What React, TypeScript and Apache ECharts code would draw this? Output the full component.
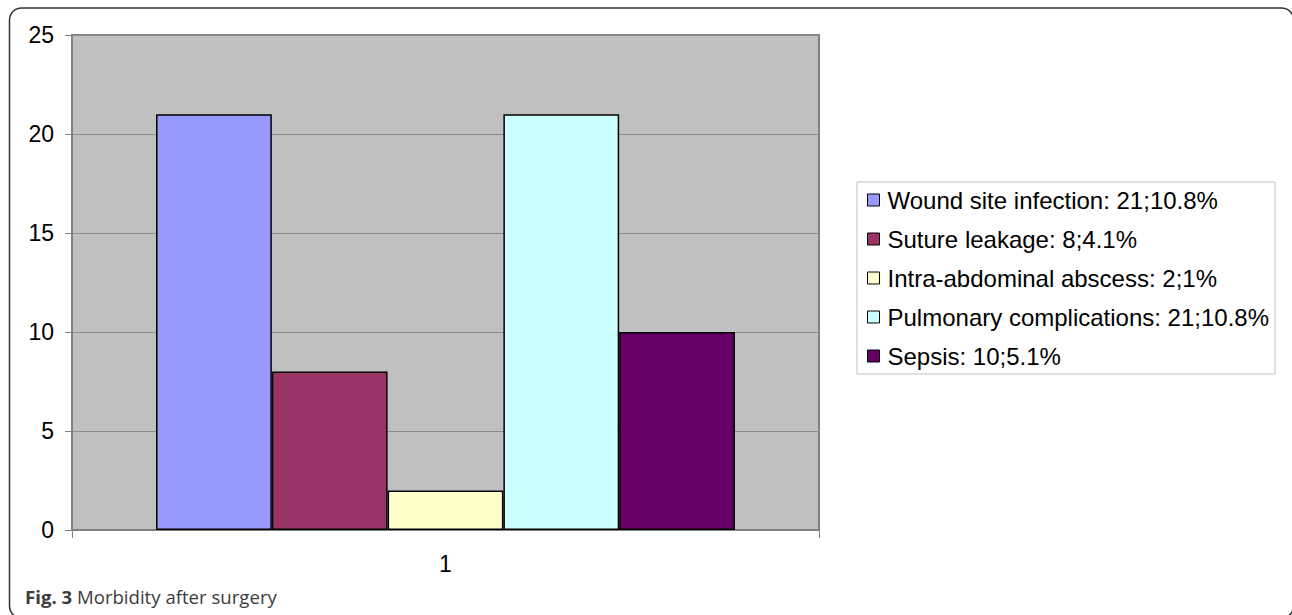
import React, { useEffect, useRef } from "react";
import * as echarts from "echarts";

const categories = ["1"];
const seriesNames = [
  "Wound site infection: 21;10.8%",
  "Suture leakage: 8;4.1%",
  "Intra-abdominal abscess: 2;1%",
  "Pulmonary complications: 21;10.8%",
  "Sepsis: 10;5.1%",
];
const seriesValues = [[21], [8], [2], [21], [10]];
const seriesColors = ["#9999FF", "#993366", "#FFFFCC", "#CCFFFF", "#660066"];
const yTicks = { min: 0, max: 25, interval: 5 };
const captionBold = "Fig. 3";
const captionText = "Morbidity after surgery";

export default function App() {
  const ref = useRef<HTMLDivElement>(null);
  useEffect(() => {
    if (!ref.current) return;
    const chart = echarts.init(ref.current, null, { renderer: "svg" });
    const font = "'Liberation Sans', Arial, sans-serif";
    chart.setOption({
      animation: false,
      backgroundColor: "#ffffff",
      grid: {
        left: 72,
        top: 35,
        right: 1292 - 819,
        bottom: 615 - 530,
        show: true,
        backgroundColor: "#c0c0c0",
        borderColor: "#808080",
        borderWidth: 2,
      },
      legend: {
        orient: "vertical",
        left: 857,
        top: 182,
        padding: [6, 6, 6, 10],
        itemGap: 15,
        itemWidth: 12,
        itemHeight: 12,
        icon: "rect",
        backgroundColor: "#ffffff",
        borderColor: "#c0c0c0",
        borderWidth: 1,
        borderRadius: 0,
        itemStyle: { borderColor: "#000000", borderWidth: 1 },
        textStyle: {
          fontFamily: font,
          fontSize: 24,
          color: "#000000",
          lineHeight: 24,
          padding: [0, 0, 0, 3],
        },
        data: seriesNames,
      },
      xAxis: {
        type: "category",
        data: categories,
        axisLine: { show: true, lineStyle: { color: "#808080", width: 2 } },
        axisTick: { show: true, length: 8, lineStyle: { color: "#808080", width: 1 } },
        axisLabel: { fontFamily: font, fontSize: 23, color: "#000000", margin: 22 },
        splitLine: { show: false },
      },
      yAxis: {
        type: "value",
        min: yTicks.min,
        max: yTicks.max,
        interval: yTicks.interval,
        axisLine: { show: true, lineStyle: { color: "#808080", width: 2 } },
        axisTick: { show: true, length: 7, lineStyle: { color: "#808080", width: 1 } },
        axisLabel: { fontFamily: font, fontSize: 23, color: "#000000", margin: 18 },
        splitLine: { show: true, lineStyle: { color: "#8c8c8c", width: 1 } },
      },
      series: seriesNames.map((name, i) => ({
        name,
        type: "bar",
        data: seriesValues[i],
        barGap: "0%",
        barCategoryGap: "22.5%",
        itemStyle: { color: seriesColors[i], borderColor: "#000000", borderWidth: 1.5 },
      })),
      graphic: [
        {
          type: "rect",
          shape: { x: 9.5, y: 8, width: 1284, height: 610, r: 12 },
          style: { fill: "none", stroke: "#333333", lineWidth: 1.5 },
          silent: true,
          z: 100,
        },
        {
          type: "text",
          left: 25,
          top: 587,
          style: {
            text: "{b|" + captionBold + "} " + captionText,
            fontFamily: "'Open Sans', sans-serif",
            fontSize: 18.6,
            fill: "#3c3c3c",
            rich: {
              b: { fontFamily: "'Open Sans', sans-serif", fontSize: 18.6, fontWeight: "bold", color: "#333333" },
            },
          },
        },
      ],
    });
    return () => chart.dispose();
  }, []);
  return (
    <div
      ref={ref}
      style={{ position: "absolute", left: 0, top: 0, width: 1292, height: 615 }}
    />
  );
}
